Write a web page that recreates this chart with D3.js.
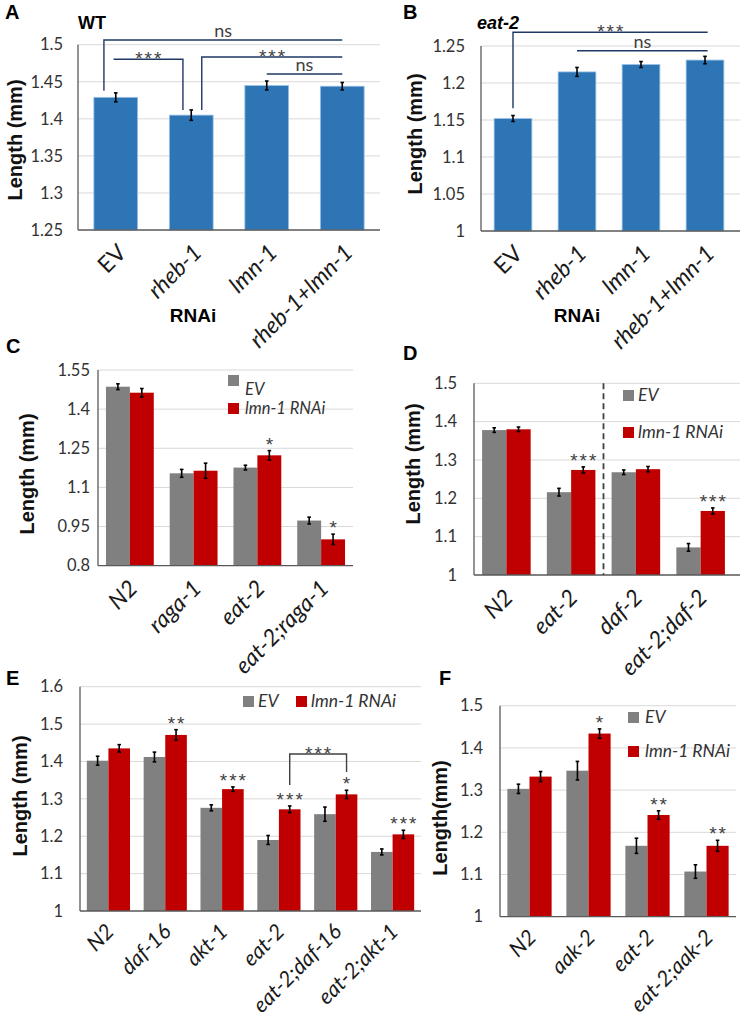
<!DOCTYPE html>
<html>
<head>
<meta charset="utf-8">
<script src="https://cdn.jsdelivr.net/npm/d3@7"></script>
<style>
  html, body { margin: 0; padding: 0; background: #fff; }
  svg { display: block; }
</style>
</head>
<body>
<svg id="chart" width="740" height="1026"></svg>
<script>
// ---------------- DATA ----------------
// Panel A (WT)
const catsA = ["EV", "rheb-1", "lmn-1", "rheb-1+lmn-1"];
const lenA = [1.429, 1.405, 1.445, 1.444];
const errA = [0.006, 0.007, 0.006, 0.005];
const ticksA = [1.25, 1.3, 1.35, 1.4, 1.45, 1.5];

// Panel B (eat-2)
const catsB = ["EV", "rheb-1", "lmn-1", "rheb-1+lmn-1"];
const lenB = [1.152, 1.215, 1.225, 1.231];
const errB = [0.004, 0.006, 0.004, 0.005];
const ticksB = [1, 1.05, 1.1, 1.15, 1.2, 1.25];

// Panel C
const catsC = ["N2", "raga-1", "eat-2", "eat-2;raga-1"];
const evC = [1.486, 1.154, 1.176, 0.973];
const evErrC = [0.011, 0.015, 0.009, 0.013];
const lmnC = [1.463, 1.164, 1.223, 0.901];
const lmnErrC = [0.016, 0.029, 0.018, 0.020];
const starsC = ["", "", "*", "*"];
const ticksC = [0.8, 0.95, 1.1, 1.25, 1.4, 1.55];

// Panel D
const catsD = ["N2", "eat-2", "daf-2", "eat-2;daf-2"];
const evD = [1.378, 1.216, 1.268, 1.072];
const evErrD = [0.006, 0.010, 0.006, 0.010];
const lmnD = [1.380, 1.274, 1.276, 1.167];
const lmnErrD = [0.006, 0.008, 0.007, 0.008];
const starsD = ["", "***", "", "***"];
const ticksD = [1, 1.1, 1.2, 1.3, 1.4, 1.5];

// Panel E
const catsE = ["N2", "daf-16", "akt-1", "eat-2", "eat-2;daf-16", "eat-2;akt-1"];
const evE = [1.402, 1.412, 1.276, 1.190, 1.259, 1.158];
const evErrE = [0.012, 0.013, 0.008, 0.012, 0.019, 0.008];
const lmnE = [1.435, 1.471, 1.326, 1.272, 1.312, 1.205];
const lmnErrE = [0.010, 0.014, 0.006, 0.009, 0.011, 0.011];
const starsE = ["", "**", "***", "***", "*", "***"];
const ticksE = [1, 1.1, 1.2, 1.3, 1.4, 1.5, 1.6];

// Panel F
const catsF = ["N2", "aak-2", "eat-2", "eat-2;aak-2"];
const evF = [1.303, 1.346, 1.168, 1.107];
const evErrF = [0.011, 0.022, 0.018, 0.016];
const lmnF = [1.332, 1.434, 1.241, 1.168];
const lmnErrF = [0.012, 0.011, 0.010, 0.013];
const starsF = ["", "*", "**", "**"];
const ticksF = [1, 1.1, 1.2, 1.3, 1.4, 1.5];

const seriesNames = ["EV", "lmn-1 RNAi"];

// Significance brackets (category names, y in data units)
const bracketsA = [
  { from: "EV", to: "rheb-1+lmn-1", fromOff: -0.27, toOff: 0, top: 1.5063, leftEnd: 1.438, rightEnd: null, label: "ns" },
  { from: "EV", to: "rheb-1", fromOff: -0.05, toOff: -0.19, top: 1.4803, leftEnd: null, rightEnd: 1.412, label: "***" },
  { from: "rheb-1", to: "rheb-1+lmn-1", fromOff: 0.24, toOff: 0, top: 1.4834, leftEnd: 1.412, rightEnd: null, label: "***" },
  { from: "lmn-1", to: "rheb-1+lmn-1", fromOff: 0, toOff: 0, top: 1.4605, leftEnd: null, rightEnd: null, label: "ns" }
];
const bracketsB = [
  { from: "EV", to: "rheb-1+lmn-1", fromOff: 0, toOff: 0.07, top: 1.2685, leftEnd: 1.166, rightEnd: null, label: "***" },
  { from: "rheb-1", to: "rheb-1+lmn-1", fromOff: 0, toOff: 0.07, top: 1.2436, leftEnd: null, rightEnd: null, label: "ns" }
];
const bracketsE = [
  { from: "eat-2", to: "eat-2;daf-16", top: 1.42, leftEnd: 1.337, rightEnd: 1.372, label: "***" }
];

// ---------------- DRAWING ----------------
const svg = d3.select("#chart");
const TICK_FONT = "Lato, 'Open Sans', sans-serif";
const BOLD_FONT = "'Liberation Sans', Arial, sans-serif";
const GREY = "#808080", RED = "#C00000", BLUE = "#2E75B6";

function panel(cfg) {
  const g = svg.append("g");
  const x = d3.scaleBand().domain(cfg.cats).range([cfg.x0, cfg.x1])
    .paddingInner(cfg.pad).paddingOuter(cfg.pad / 2);
  const y = d3.scaleLinear().domain([cfg.ticks[0], cfg.ticks[cfg.ticks.length - 1]])
    .range([cfg.yb, cfg.yt]);

  // gridlines
  g.append("g").selectAll("line").data(cfg.ticks.slice(1)).join("line")
    .attr("x1", cfg.x0).attr("x2", cfg.gridX1 || cfg.x1)
    .attr("y1", d => y(d)).attr("y2", d => y(d))
    .attr("stroke", "#d9d9d9").attr("stroke-width", 1);

  // y axis labels
  const ya = g.append("g").attr("transform", `translate(${cfg.x0},0)`)
    .call(d3.axisLeft(y).tickValues(cfg.ticks).tickSize(0).tickPadding(cfg.tickPad).tickFormat(d => String(d)));
  ya.select(".domain").remove();
  ya.selectAll("text").attr("font-family", TICK_FONT).attr("font-size", 16.5).attr("fill", "#333");

  // series
  const sub = d3.scaleBand().domain(d3.range(cfg.series.length)).range([0, x.bandwidth()]);
  cfg.series.forEach((s, si) => {
    const rows = cfg.cats.map((c, i) => ({ c, v: s.vals[i], e: s.errs[i] }));
    const sg = g.append("g");
    sg.selectAll("rect").data(rows).join("rect")
      .attr("x", d => x(d.c) + sub(si))
      .attr("width", sub.bandwidth())
      .attr("y", d => y(d.v))
      .attr("height", d => y(cfg.ticks[0]) - y(d.v))
      .attr("fill", s.color)
      .attr("stroke", s.edge || "none").attr("stroke-width", 0.8);
    const cxf = d => x(d.c) + sub(si) + sub.bandwidth() / 2;
    const eb = sg.append("g").attr("stroke", "#000").attr("stroke-width", 1.6);
    eb.selectAll("line.v").data(rows).join("line").attr("class", "v")
      .attr("x1", cxf).attr("x2", cxf)
      .attr("y1", d => y(d.v - d.e)).attr("y2", d => y(d.v + d.e));
    eb.selectAll("line.t").data(rows).join("line").attr("class", "t")
      .attr("x1", d => cxf(d) - 1.8).attr("x2", d => cxf(d) + 1.8)
      .attr("y1", d => y(d.v + d.e)).attr("y2", d => y(d.v + d.e));
    eb.selectAll("line.b").data(rows).join("line").attr("class", "b")
      .attr("x1", d => cxf(d) - 1.8).attr("x2", d => cxf(d) + 1.8)
      .attr("y1", d => y(d.v - d.e)).attr("y2", d => y(d.v - d.e));
    if (s.stars) {
      sg.selectAll("text.star").data(rows.map((r, i) => ({ ...r, s: s.stars[i] })).filter(r => r.s)).join("text")
        .attr("class", "star")
        .attr("x", d => cxf(d) + 1).attr("y", d => y(d.v + d.e) + cfg.starDy)
        .attr("text-anchor", "middle").attr("font-family", BOLD_FONT)
        .attr("font-size", 19).attr("letter-spacing", 2).attr("fill", "#404040")
        .text(d => d.s);
    }
  });

  // axis lines
  g.append("line").attr("x1", cfg.x0).attr("x2", cfg.x0).attr("y1", y(cfg.ticks[cfg.ticks.length - 1])).attr("y2", y(cfg.ticks[0]))
    .attr("stroke", "#595959").attr("stroke-width", 1.3);
  g.append("line").attr("x1", cfg.x0).attr("x2", cfg.gridX1 || cfg.x1).attr("y1", y(cfg.ticks[0])).attr("y2", y(cfg.ticks[0]))
    .attr("stroke", "#595959").attr("stroke-width", 1.3);

  // x labels via axis
  const xa = g.append("g").attr("transform", `translate(0,${y(cfg.ticks[0])})`)
    .call(d3.axisBottom(x).tickSize(0));
  xa.select(".domain").remove();
  xa.selectAll("text")
    .attr("y", null).attr("dy", null)
    .attr("transform", `translate(${cfg.labDx},${cfg.labDy}) rotate(-45)`)
    .attr("text-anchor", "end")
    .attr("font-family", TICK_FONT).attr("font-size", cfg.labSize || 23).attr("fill", "#1a1a1a")
    .attr("font-style", d => d === "EV" ? "normal" : "italic");

  // y title
  g.append("text").attr("transform", `translate(${cfg.titleX},${cfg.titleY}) rotate(-90)`)
    .attr("text-anchor", "middle").attr("dy", "0.36em")
    .attr("font-family", BOLD_FONT).attr("font-weight", "bold").attr("font-size", 20)
    .attr("fill", "#111").text(cfg.yTitle);

  // panel letter
  g.append("text").attr("x", cfg.letter[0]).attr("y", cfg.letter[1])
    .attr("font-family", BOLD_FONT).attr("font-weight", "bold").attr("font-size", 20)
    .attr("fill", "#000").text(cfg.letterText);

  // legend
  if (cfg.legend) {
    cfg.legend.forEach((it, i) => {
      g.append("rect").attr("x", it.sq[0]).attr("y", it.sq[1]).attr("width", 11).attr("height", 11)
        .attr("fill", cfg.series[i].color);
      g.append("text").attr("x", it.tx[0]).attr("y", it.tx[1]).attr("dy", it.dy != null ? it.dy : "0.35em")
        .attr("font-family", TICK_FONT).attr("font-style", "italic").attr("font-size", it.size || 17.5)
        .attr("fill", "#333").text(seriesNames[i]);
    });
  }

  // brackets
  if (cfg.brackets) {
    cfg.brackets.forEach(b => {
      const xl = x(b.from) + x.bandwidth() / 2 + (b.fromOff || 0) * x.bandwidth();
      const xr = x(b.to) + x.bandwidth() / 2 + (b.toOff || 0) * x.bandwidth();
      const bxl = cfg.bracketSub ? x(b.from) + sub(1) + sub.bandwidth() / 2 : xl;
      const bxr = cfg.bracketSub ? x(b.to) + sub(1) + sub.bandwidth() / 2 : xr;
      const pts = [];
      if (b.leftEnd != null) pts.push([bxl, y(b.leftEnd)]);
      pts.push([bxl, y(b.top)]);
      pts.push([bxr, y(b.top)]);
      if (b.rightEnd != null) pts.push([bxr, y(b.rightEnd)]);
      g.append("path").attr("d", d3.line()(pts)).attr("fill", "none")
        .attr("stroke", cfg.bracketColor).attr("stroke-width", 1.4);
      const isStar = b.label.indexOf("*") >= 0;
      g.append("text").attr("x", (bxl + bxr) / 2 + (isStar ? 1 : 0))
        .attr("y", y(b.top) + (isStar ? cfg.bStarDy : -3))
        .attr("text-anchor", "middle")
        .attr("font-family", isStar ? BOLD_FONT : TICK_FONT)
        .attr("font-size", isStar ? 19 : 18)
        .attr("letter-spacing", isStar ? 2 : 0)
        .attr("fill", "#404040").text(b.label);
    });
  }

  // dashed separator
  if (cfg.separatorAfter != null) {
    const sx = (x(cfg.cats[cfg.separatorAfter]) + x.bandwidth() + x(cfg.cats[cfg.separatorAfter + 1])) / 2;
    g.append("line").attr("x1", sx).attr("x2", sx)
      .attr("y1", y(cfg.ticks[cfg.ticks.length - 1])).attr("y2", y(cfg.ticks[0]))
      .attr("stroke", "#404040").attr("stroke-width", 1.8).attr("stroke-dasharray", "6,4");
  }
  return { x, y };
}

// Panel A
panel({
  cats: catsA, ticks: ticksA, x0: 78, x1: 380, yb: 230, yt: 44.7, pad: 0.42, tickPad: 15,
  series: [{ vals: lenA, errs: errA, color: BLUE, edge: "#9DC3E6" }],
  labDx: 12, labDy: 24, titleX: 15, titleY: 140, yTitle: "Length (mm)",
  letter: [5, 19], letterText: "A",
  brackets: bracketsA, bracketColor: "#1F3864", bStarDy: 6
});
svg.append("text").attr("x", 78).attr("y", 29).attr("font-family", BOLD_FONT).attr("font-weight", "bold")
  .attr("font-size", 18).text("WT");
svg.append("text").attr("x", 193).attr("y", 322).attr("text-anchor", "middle").attr("font-family", BOLD_FONT)
  .attr("font-weight", "bold").attr("font-size", 19).text("RNAi");

// Panel B
panel({
  cats: catsB, ticks: ticksB, x0: 481, x1: 737, gridX1: 740, yb: 231, yt: 46, pad: 0.41, tickPad: 16,
  series: [{ vals: lenB, errs: errB, color: BLUE, edge: "#9DC3E6" }],
  labDx: 11, labDy: 24, titleX: 415, titleY: 134, yTitle: "Length (mm)",
  letter: [403, 19], letterText: "B",
  brackets: bracketsB, bracketColor: "#1F3864", bStarDy: 6
});
svg.append("text").attr("x", 477).attr("y", 29).attr("font-family", BOLD_FONT).attr("font-weight", "bold")
  .attr("font-style", "italic").attr("font-size", 18).text("eat-2");
svg.append("text").attr("x", 577).attr("y", 322).attr("text-anchor", "middle").attr("font-family", BOLD_FONT)
  .attr("font-weight", "bold").attr("font-size", 19).text("RNAi");

// Panel C
panel({
  cats: catsC, ticks: ticksC, x0: 98, x1: 353, yb: 565.7, yt: 370, pad: 0.25, tickPad: 8,
  series: [{ vals: evC, errs: evErrC, color: GREY }, { vals: lmnC, errs: lmnErrC, color: RED, stars: starsC }],
  starDy: 0, labDx: 9, labDy: 24, titleX: 27, titleY: 474, yTitle: "Length (mm)",
  letter: [6, 353], letterText: "C",
  legend: [{ sq: [228, 375], tx: [245, 395], dy: 0, size: 16.5 }, { sq: [228, 403], tx: [245, 414], dy: 0, size: 16.5 }]
});

// Panel D
panel({
  cats: catsD, ticks: ticksD, x0: 474, x1: 733, gridX1: 740, yb: 575, yt: 383.3, pad: 0.25, tickPad: 17,
  series: [{ vals: evD, errs: evErrD, color: GREY }, { vals: lmnD, errs: lmnErrD, color: RED, stars: starsD }],
  starDy: 0, labDx: 8, labDy: 24, titleX: 413, titleY: 464, yTitle: "Length (mm)",
  letter: [403, 360], letterText: "D",
  legend: [{ sq: [623, 390], tx: [638, 395] }, { sq: [623, 427], tx: [638, 432] }],
  separatorAfter: 1
});

// Panel E
panel({
  cats: catsE, ticks: ticksE, x0: 80, x1: 421, yb: 911, yt: 686.7, pad: 0.24, tickPad: 17,
  series: [{ vals: evE, errs: evErrE, color: GREY }, { vals: lmnE, errs: lmnErrE, color: RED, stars: starsE }],
  starDy: 0, labDx: 7, labDy: 22, labSize: 21.5, titleX: 20, titleY: 796, yTitle: "Length (mm)",
  letter: [6, 685], letterText: "E",
  legend: [{ sq: [243, 696], tx: [258, 701] }, { sq: [296, 696], tx: [311, 701] }],
  brackets: bracketsE, bracketSub: true, bracketColor: "#404040", bStarDy: 6
});

// Panel F
panel({
  cats: catsF, ticks: ticksF, x0: 500, x1: 736, yb: 916.7, yt: 705.7, pad: 0.25, tickPad: 17,
  series: [{ vals: evF, errs: evErrF, color: GREY }, { vals: lmnF, errs: lmnErrF, color: RED, stars: starsF }],
  starDy: 0, labDx: 8, labDy: 22, labSize: 21.5, titleX: 440, titleY: 818, yTitle: "Length(mm)",
  letter: [439, 685], letterText: "F",
  legend: [{ sq: [628, 712], tx: [645, 717] }, { sq: [628, 746], tx: [645, 751] }]
});
</script>
</body>
</html>
